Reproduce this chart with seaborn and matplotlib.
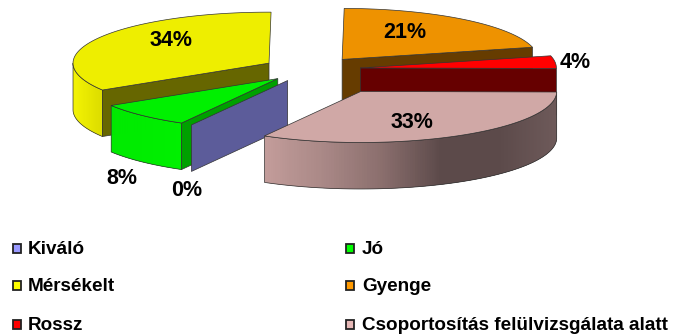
import numpy as np
import matplotlib
matplotlib.use("Agg")
import matplotlib.pyplot as plt
from matplotlib.patches import Polygon, Rectangle
from matplotlib.colors import LinearSegmentedColormap
import seaborn as sns

# Ratings and their shares, in clockwise drawing order
categories = ["Kiváló", "Jó", "Mérsékelt", "Gyenge", "Rossz",
              "Csoportosítás felülvizsgálata alatt"]
shares = [0, 8, 34, 21, 4, 33]
value_labels = ["0%", "8%", "34%", "21%", "4%", "33%"]
exploded = [1, 1, 1, 1, 1, 2]

legend_colors = ["#9999ff", "#00ff00", "#ffff00", "#ff9900", "#ff0000", "#e6b8b7"]
top_colors = ["#5c5c9a", "#00f000", "#eeee00", "#ee9200", "#ff0000", "#d0a8a6"]
cut_colors = ["#5c5c9a", "#00a000", "#666600", "#663c00", "#660000", "#7a6060"]
wall_stops = {
    1: ["#00ea00", "#00f000"],
    2: ["#f4f400", "#dcdc00"],
    5: ["#c29c9a", "#a98886", "#8a6e6d", "#5c4a4a", "#5c4a4a", "#6e5a5a"],
}

label_xy = [(187, 190), (122, 179), (171, 40), (405, 32), (575, 63), (412, 122)]

CX, CY = 311.7, 69.4
RX, RY = 196.0, 51.0
EXPLODE = 0.25
DEPTH = 46.5
FIRST_ANGLE = 240.6

sns.set_theme(style="white")
palette = sns.color_palette(legend_colors)

fig = plt.figure(figsize=(6.75, 3.35), dpi=100, facecolor="white")
ax = fig.add_axes([0, 0, 1, 1])
ax.set_xlim(0, 675)
ax.set_ylim(335, 0)
ax.axis("off")

FONT = "Liberation Sans"
EDGE = "#333333"


def point(apex, deg):
    a = np.radians(deg)
    return apex[0] + RX * np.cos(a), apex[1] - RY * np.sin(a)


def wedge(index, start, stop):
    mid = np.radians((start + stop) / 2)
    pull = EXPLODE * exploded[index]
    apex = (CX + pull * RX * np.cos(mid), CY - pull * RY * np.sin(mid))
    arc = np.array([point(apex, d) for d in np.linspace(start, stop, 80)])
    return apex, arc


def cut_face(apex, deg, color, z):
    outer = point(apex, deg)
    pts = [apex, outer, (outer[0], outer[1] + DEPTH), (apex[0], apex[1] + DEPTH)]
    ax.add_patch(Polygon(pts, closed=True, fc=color, ec=EDGE, lw=0.5, zorder=z))


def outer_wall(index, apex, lo, hi, z):
    # Rim between two angles; each column overlaps the next so no seams show
    top = np.array([point(apex, d) for d in np.linspace(lo, hi, 160)])
    top = top[np.argsort(top[:, 0])]
    cmap = LinearSegmentedColormap.from_list("wall", wall_stops[index])
    span = top[-1, 0] - top[0, 0]
    for k in range(len(top) - 1):
        a, b = top[k], top[min(k + 3, len(top) - 1)]
        shade = cmap((a[0] - top[0, 0]) / span)
        ax.fill([a[0], b[0], b[0], a[0]],
                [a[1], b[1], b[1] + DEPTH, a[1] + DEPTH],
                fc=shade, ec="none", zorder=z)
    outline = np.vstack([top, top[::-1] + [0, DEPTH]])
    ax.add_patch(Polygon(outline, closed=True, fc="none", ec=EDGE, lw=0.5, zorder=z + 0.2))


# Angular extents, walking clockwise from the first slice
edges = FIRST_ANGLE - np.cumsum([0] + [s * 3.6 for s in shares])
slices = [wedge(i, edges[i], edges[i + 1]) for i in range(len(shares))]

# Rim ranges that face the viewer
rims = {1: (edges[1], edges[2]), 2: (edges[2], 180.0), 5: (edges[5], edges[6])}
# Radial cut that faces the viewer on each back slice
cuts = {1: edges[1], 2: edges[2], 3: edges[4], 4: edges[5]}

# Back to front: Mérsékelt, Gyenge, Rossz, Jó, Kiváló, then the pulled-out slice
draw_order = [2, 3, 4, 1, 0, 5]
for z, i in enumerate(draw_order, start=2):
    apex, arc = slices[i]
    if shares[i] == 0:
        cut_face(apex, edges[i], top_colors[i], z)
        continue
    if i in rims:
        outer_wall(i, apex, rims[i][0], rims[i][1], z)
    if i in cuts:
        cut_face(apex, cuts[i], cut_colors[i], z + 0.3)
    top = np.vstack([[apex], arc])
    ax.add_patch(Polygon(top, closed=True, fc=top_colors[i], ec=EDGE, lw=0.5, zorder=z + 0.5))

for text, (x, y) in zip(value_labels, label_xy):
    ax.text(x, y, text, ha="center", va="center", fontsize=15.5,
            fontweight="bold", family=FONT, color="black", zorder=20)

# Two-column key
rows = [248, 285, 324]
cols = [(12, 28), (345, 362)]
for i, name in enumerate(categories):
    (sx, tx), y = cols[i % 2], rows[i // 2]
    ax.add_patch(Rectangle((sx + 1, y - 4.5), 8, 9, fc=palette[i], ec="#222222", lw=1.3, zorder=10))
    ax.text(tx, y + 1.5, name, ha="left", va="center", fontsize=13.6,
            fontweight="bold", family=FONT, color="black", zorder=20)

fig.savefig("out.png", dpi=100, facecolor="white")
